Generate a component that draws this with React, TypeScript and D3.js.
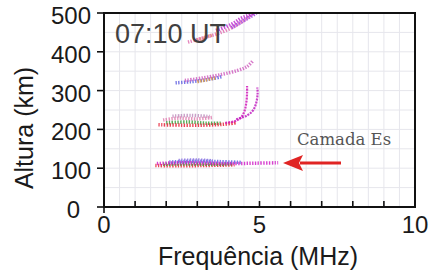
import React from 'react';
import * as d3 from 'd3';

// constants
const width = 433;
const height = 274;
const margin = { top: 13, right: 18, bottom: 67, left: 104 };

const xTicks = [0, 5, 10];
const yTicks = [0, 100, 200, 300, 400, 500];

// echo traces: [frequency MHz, height km]
const esRed = [[1.65, 107], [2.4, 106], [3.2, 107], [3.9, 108], [4.2, 109]];
const esGreen = [[1.9, 110], [2.7, 111], [3.5, 110], [4.1, 111]];
const esMagenta = [[1.7, 112], [2.5, 114], [3.3, 113], [4.2, 112], [4.9, 113], [5.6, 114]];
const esBlue = [[2.1, 116], [2.9, 118], [3.7, 117], [4.4, 115]];
const esViolet = [[2.4, 120], [3.0, 121], [3.5, 119]];

const fRed = [[1.75, 212], [2.5, 211], [3.2, 211], [3.8, 213], [4.25, 217]];
const fGreen = [[2.0, 217], [2.7, 219], [3.3, 216], [3.8, 216]];
const fPink = [[1.9, 224], [2.4, 229], [3.0, 227], [3.5, 231]];
const fMauve = [[2.2, 234], [2.8, 236], [3.4, 233]];
const fOrdinary = [[3.9, 217], [4.2, 221], [4.4, 230], [4.52, 248], [4.58, 272], [4.6, 295], [4.6, 312]];
const fExtra = [[4.25, 226], [4.6, 236], [4.8, 250], [4.9, 270], [4.94, 293], [4.93, 308]];

const midBlue = [[2.3, 320], [2.8, 323], [3.3, 328], [3.8, 336]];
const midPink = [[2.6, 326], [3.2, 333], [3.8, 342], [4.3, 352], [4.6, 362], [4.8, 378]];
const midOrange = [[3.0, 323], [3.6, 333]];

const topPink = [[2.7, 425], [3.2, 436], [3.8, 451], [4.2, 466], [4.5, 481], [4.8, 500]];
const topMagenta = [[3.6, 455], [4.1, 471], [4.4, 486], [4.7, 496], [4.95, 505]];
const topViolet = [[4.1, 462], [4.4, 476], [4.7, 490], [4.9, 500]];
const topOrange = [[3.0, 430], [3.5, 444]];

const traces = [
  { data: esRed, color: '#e8233a' },
  { data: esGreen, color: '#3a9f3a' },
  { data: esBlue, color: '#6060e0' },
  { data: esViolet, color: '#8a70e0' },
  { data: esMagenta, color: '#d020c8' },
  { data: fMauve, color: '#c090c0' },
  { data: fPink, color: '#e080b0' },
  { data: fGreen, color: '#3a9f3a' },
  { data: fRed, color: '#e8233a' },
  { data: fOrdinary, color: '#d018b8', solid: true },
  { data: fExtra, color: '#c020c0', solid: true },
  { data: midBlue, color: '#6060e0' },
  { data: midOrange, color: '#e0a040' },
  { data: midPink, color: '#d060c0' },
  { data: topOrange, color: '#e08060' },
  { data: topPink, color: '#e070b0' },
  { data: topViolet, color: '#a040e0' },
  { data: topMagenta, color: '#c030d0' },
];

const App = () => {
  const xScale = d3.scaleLinear().domain([0, 10]).range([margin.left, width - margin.right]);
  const yScale = d3.scaleLinear().domain([0, 500]).range([height - margin.bottom, margin.top]);

  const line = d3.line<number[]>()
    .x(d => xScale(d[0]))
    .y(d => yScale(d[1]))
    .curve(d3.curveCatmullRom);

  const gridX = d3.range(0, 10.01, 0.5);
  const gridY = d3.range(0, 501, 50);
  const x0 = xScale(0), x1 = xScale(10), y0 = yScale(0), y1 = yScale(500);
  const font = "'Liberation Sans', Arial, sans-serif";

  return (
    <svg width={width} height={height} style={{ position: 'absolute', left: 0, top: 0, background: '#fff' }}>
      <defs>
        <clipPath id="plot"><rect x={x0} y={y1} width={x1 - x0} height={y0 - y1} /></clipPath>
      </defs>
      {/* grid */}
      {gridX.map(v => (
        <line key={'gx' + v} x1={xScale(v)} x2={xScale(v)} y1={y0} y2={y1} stroke="#e6e6ec" strokeWidth={1} />
      ))}
      {gridY.map(v => (
        <line key={'gy' + v} x1={x0} x2={x1} y1={yScale(v)} y2={yScale(v)} stroke="#e6e6ec" strokeWidth={1} />
      ))}

      {/* echoes */}
      <g clipPath="url(#plot)">
        {traces.map((t, i) => (
          <path
            key={i}
            d={line(t.data) || ''}
            fill="none"
            stroke={t.color}
            strokeWidth={t.solid ? 2.2 : 3.5}
            strokeDasharray={t.solid ? '2 1' : '1.4 1.4'}
            opacity={0.85}
          />
        ))}
      </g>

      {/* frame */}
      <rect x={x0} y={y1} width={x1 - x0} height={y0 - y1} fill="none" stroke="#111" strokeWidth={2} />
      {yTicks.map(v => (
        <line key={'ty' + v} x1={x0 - 7} x2={x0 + (v === 0 ? 6 : 0)} y1={yScale(v)} y2={yScale(v)} stroke="#111" strokeWidth={1.6} />
      ))}
      {d3.range(0, 11).map(v => (
        <line key={'tx' + v} x1={xScale(v)} x2={xScale(v)} y1={y0 - 6} y2={y0 + (v === 0 ? 6 : 0)} stroke="#111" strokeWidth={1.6} />
      ))}

      {/* tick labels */}
      {yTicks.map(v => (
        <text key={'ly' + v} x={v === 0 ? 80 : 91} y={v === 0 ? 218 : yScale(v) + 11}
          textAnchor="end" fontFamily={font} fontSize={24} fill="#1a1a1a">{v}</text>
      ))}
      {xTicks.map(v => (
        <text key={'lx' + v} x={xScale(v)} y={233}
          textAnchor="middle" fontFamily={font} fontSize={24} fill="#1a1a1a">{v}</text>
      ))}

      {/* axis titles */}
      <text x={258} y={265} textAnchor="middle" fontFamily={font} fontSize={25} fill="#1a1a1a">Frequência (MHz)</text>
      <text transform="translate(33,128) rotate(-90)" textAnchor="middle" fontFamily={font} fontSize={25} fill="#1a1a1a">Altura (km)</text>

      {/* annotations */}
      <text x={115} y={43} fontFamily={font} fontSize={27} fill="#404040">07:10 UT</text>
      <text x={297} y={145} fontFamily="'DejaVu Serif', serif" fontSize={16.5} fill="#555">Camada Es</text>
      <line x1={341} x2={300} y1={163} y2={163} stroke="#e02424" strokeWidth={3} />
      <path d="M283,163 L303,155 L299,163 L303,171 Z" fill="#e02424" />
    </svg>
  );
};

export default App;
